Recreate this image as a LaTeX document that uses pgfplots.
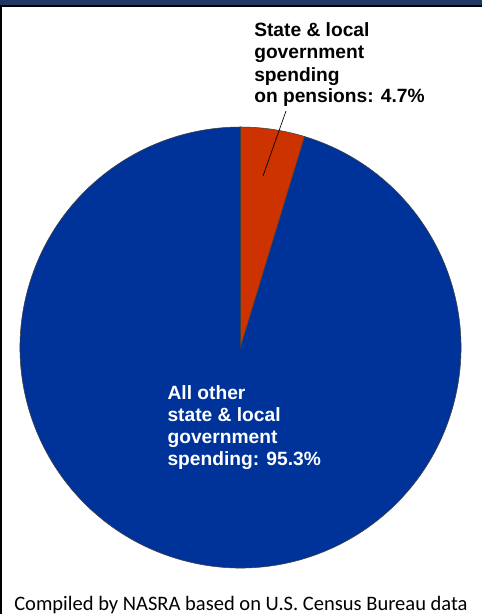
\documentclass[border=0pt]{standalone}
\usepackage{pgfplots}
\pgfplotsset{compat=1.18}
\usepackage{fontspec}
\setmainfont{Liberation Sans}
\newfontfamily\carlito{Carlito}
\definecolor{pieblue}{RGB}{0,51,153}
\definecolor{piered}{RGB}{204,51,0}
\definecolor{navy}{RGB}{31,56,100}
\begin{document}
\begin{tikzpicture}
\pgfmathsetmacro\pens{4.7}
\pgfmathsetmacro\other{95.3}
\pgfmathsetmacro\split{90-3.6*\pens}
\begin{axis}[scale only axis, width=361.5pt, height=460.5pt,
  xmin=0, xmax=482, ymin=0, ymax=614, y dir=reverse, hide axis, clip=false]
\fill[navy] (axis cs:0,0) rectangle (axis cs:482,4.5);
\fill[black] (axis cs:0,4.5) rectangle (axis cs:482,6.5);
\fill[black] (axis cs:0,6.5) rectangle (axis cs:1.5,614);
% pie
\filldraw[fill=piered, draw=black!75, line width=0.4pt]
  (axis cs:240.5,347.5) -- (axis cs:240.5,127)
  arc[start angle=90, end angle=\split, radius=165.375pt] -- cycle;
\filldraw[fill=pieblue, draw=black!75, line width=0.4pt]
  (axis cs:240.5,347.5) -- ++(\split:165.375pt)
  arc[start angle=\split, end angle=-270, radius=165.375pt] -- cycle;
% leader
\draw[black, line width=0.5pt] (axis cs:286,111) -- (axis cs:263,176);
% labels
\begin{scope}[every node/.style={anchor=base west, inner sep=0pt, font=\fontsize{14.4}{16}\selectfont\bfseries}]
\node at (axis cs:254,36.7) {State \& local};
\node at (axis cs:254,58.7) {government};
\node at (axis cs:254,81) {spending};
\node at (axis cs:254,102.7) {on pensions: \pens\%};
\node[text=white] at (axis cs:167.3,399.3) {All other};
\node[text=white] at (axis cs:167.3,421.3) {state \& local};
\node[text=white] at (axis cs:167.3,443.5) {government};
\node[text=white] at (axis cs:167.3,465.7) {spending: \other\%};
\end{scope}
\node[anchor=base west, inner sep=0pt, font=\carlito\fontsize{15.4}{16}\selectfont] at (axis cs:14,610) {Compiled by NASRA based on U.S. Census Bureau data};
\end{axis}
\pgfresetboundingbox
\useasboundingbox (current axis.south west) rectangle (current axis.north east);
\end{tikzpicture}
\end{document}
